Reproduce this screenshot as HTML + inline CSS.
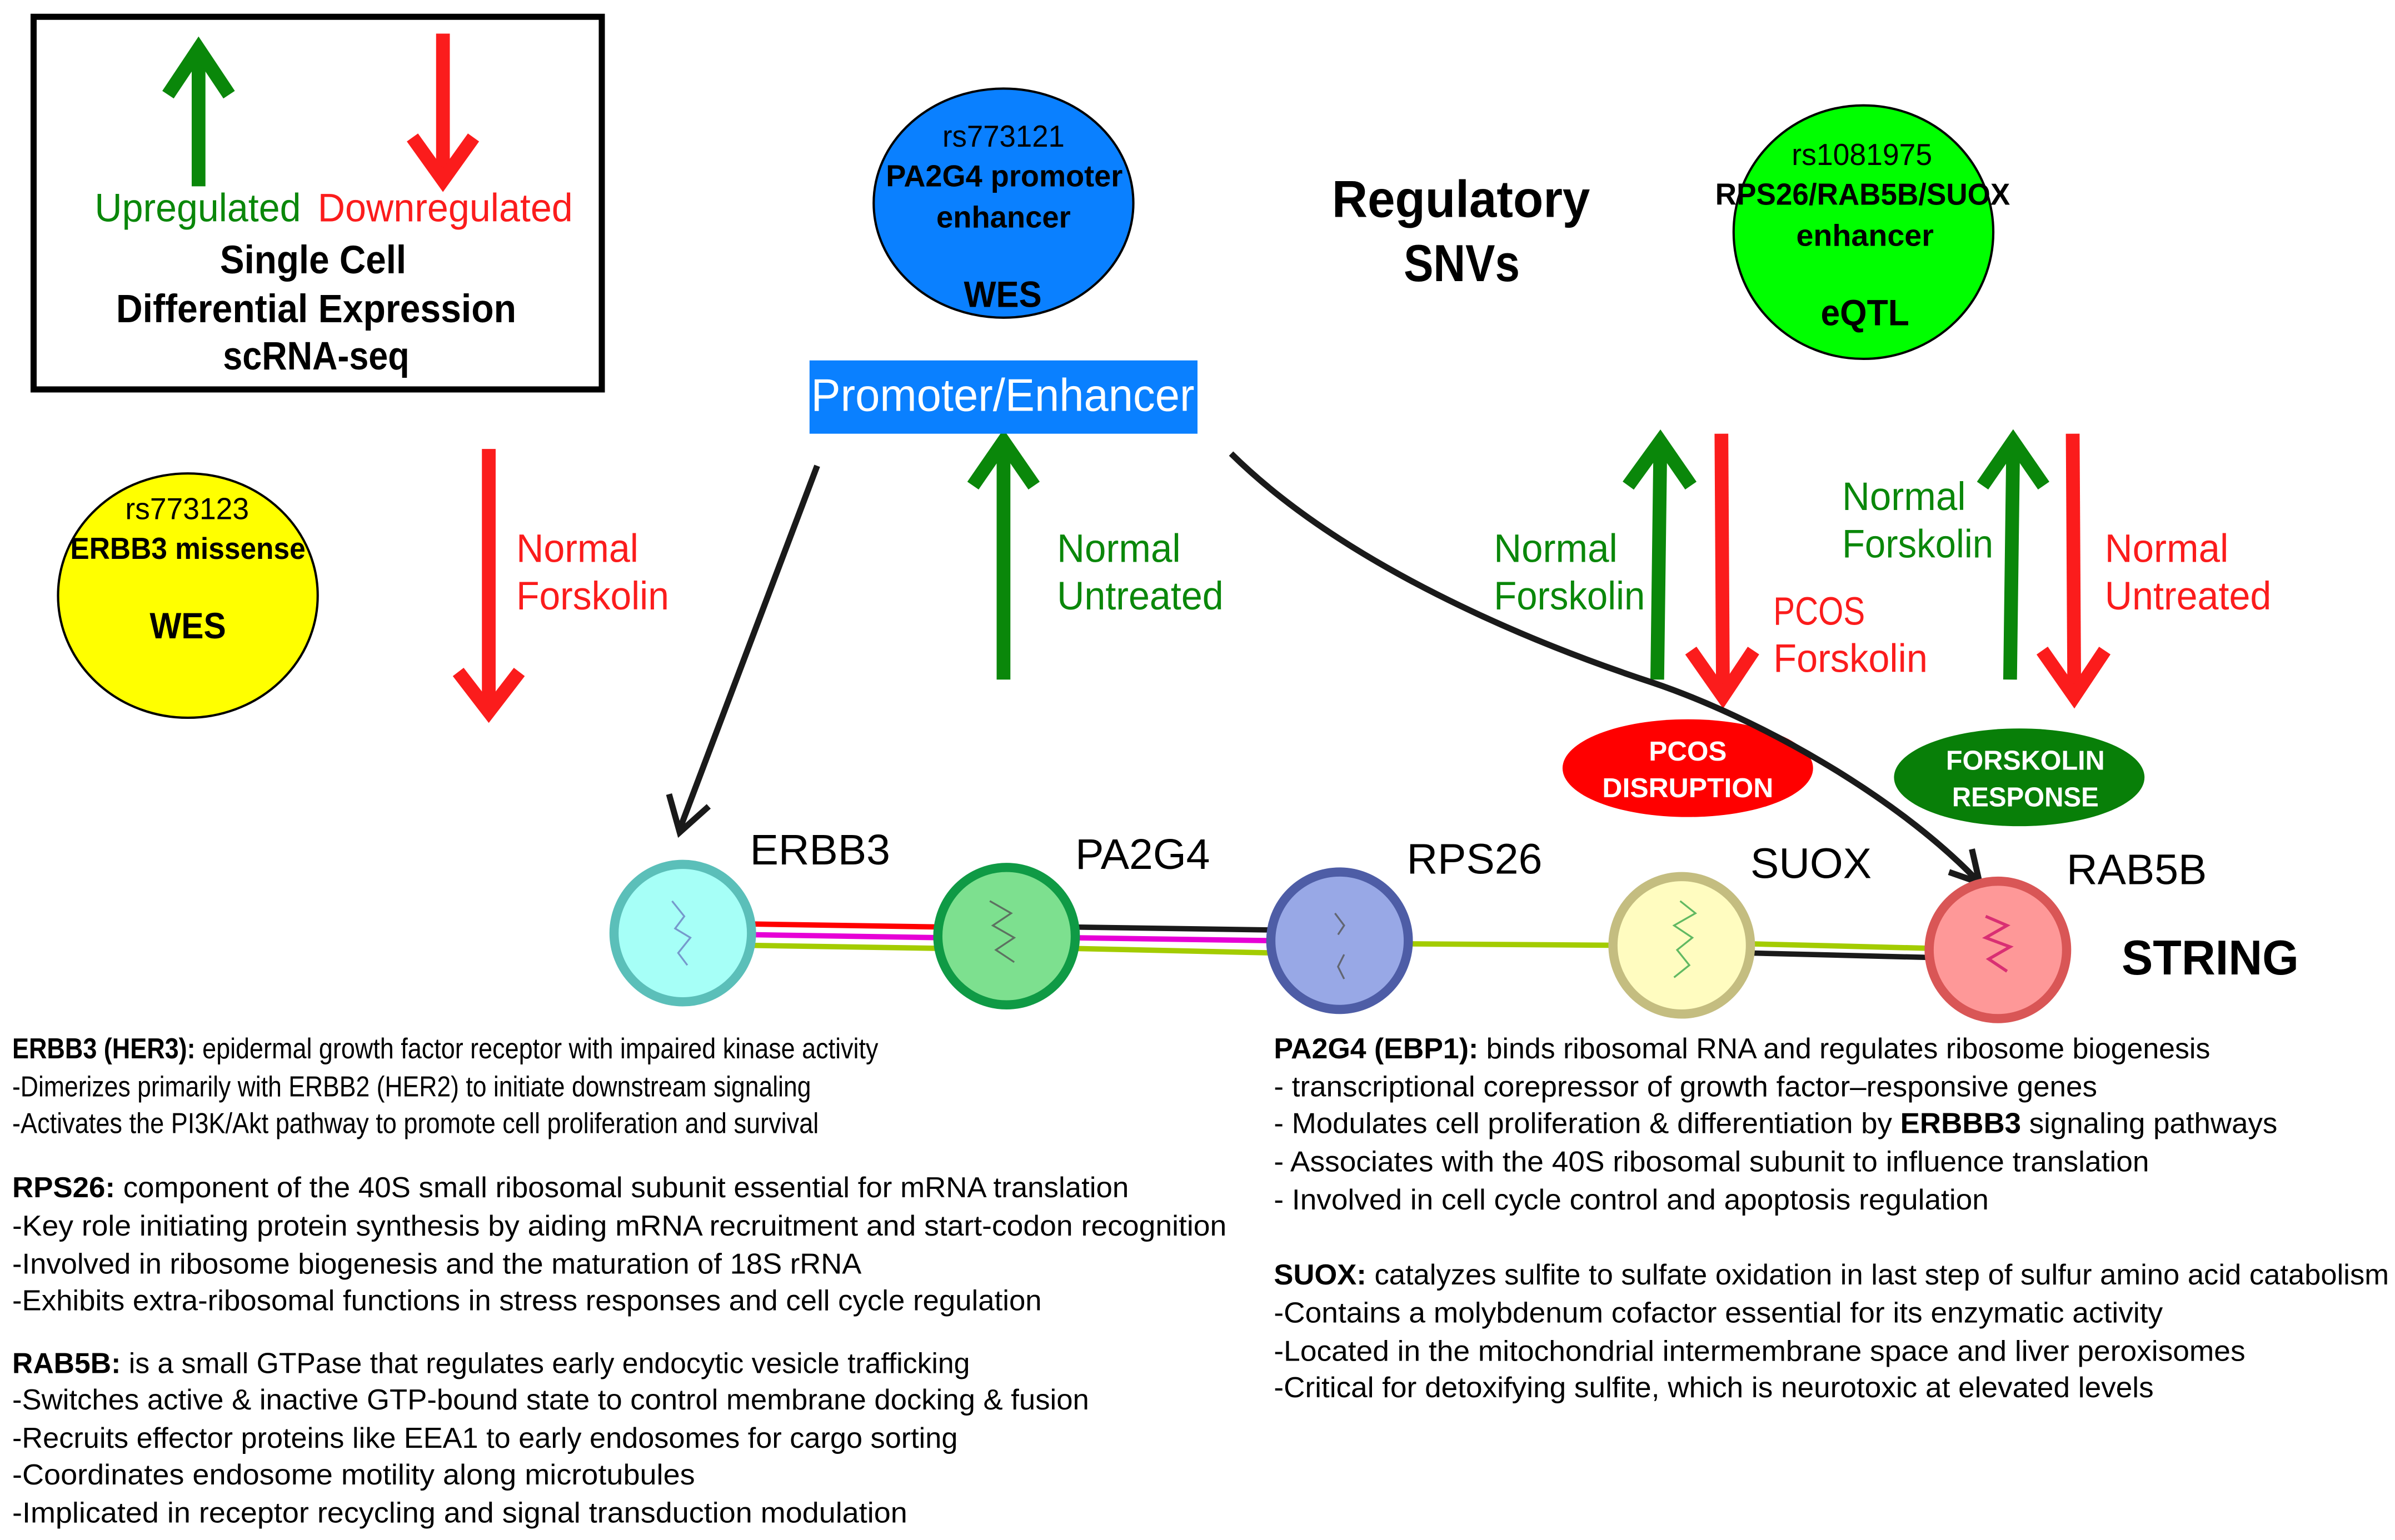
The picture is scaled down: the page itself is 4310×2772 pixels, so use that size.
<!DOCTYPE html>
<html><head><meta charset="utf-8"><style>html,body{margin:0;padding:0;background:#fff}svg{display:block}text{font-family:"Liberation Sans",sans-serif}</style></head><body>
<svg width="4310" height="2772" viewBox="0 0 1568 1008.4" preserveAspectRatio="none" xmlns="http://www.w3.org/2000/svg">
<rect x="22" y="11" width="372" height="244" fill="none" stroke="#000" stroke-width="4"/>
<g stroke-linecap="butt" fill="none" stroke-width="9">
<line x1="130" y1="122" x2="130" y2="36" stroke="#0a870a"/><polyline points="110,62 130,32 150,62" stroke="#0a870a"/>
<line x1="290" y1="22" x2="290" y2="114" stroke="#fb1c1c"/><polyline points="270,90 290,118 310,90" stroke="#fb1c1c"/>
<line x1="320" y1="294" x2="320" y2="462" stroke="#fb1c1c"/><polyline points="300,440 320,466 340,440" stroke="#fb1c1c"/>
<line x1="657" y1="445" x2="657" y2="292" stroke="#0a870a"/><polyline points="637,318 657,289 677,318" stroke="#0a870a"/>
<line x1="1085" y1="445" x2="1087" y2="292" stroke="#0a870a"/><polyline points="1066,318 1087,289 1107,318" stroke="#0a870a"/>
<line x1="1127" y1="284" x2="1128" y2="452" stroke="#fb1c1c"/><polyline points="1107,426 1128,456 1148,426" stroke="#fb1c1c"/>
<line x1="1316" y1="445" x2="1318" y2="292" stroke="#0a870a"/><polyline points="1298,318 1318,289 1338,318" stroke="#0a870a"/>
<line x1="1357" y1="284" x2="1358" y2="452" stroke="#fb1c1c"/><polyline points="1337,426 1358,456 1378,426" stroke="#fb1c1c"/>
</g>
<g font-size="26">
<text x="62" y="145" fill="#0a870a" textLength="135" lengthAdjust="spacingAndGlyphs">Upregulated</text>
<text x="208" y="145" fill="#fb1c1c" textLength="167" lengthAdjust="spacingAndGlyphs">Downregulated</text>
<g font-weight="bold">
<text x="144" y="179" textLength="122" lengthAdjust="spacingAndGlyphs">Single Cell</text>
<text x="76" y="211" textLength="262" lengthAdjust="spacingAndGlyphs">Differential Expression</text>
<text x="146" y="242" textLength="122" lengthAdjust="spacingAndGlyphs">scRNA-seq</text>
</g>
<text x="338" y="368" fill="#fb1c1c" textLength="80" lengthAdjust="spacingAndGlyphs">Normal</text>
<text x="338" y="399" fill="#fb1c1c" textLength="100" lengthAdjust="spacingAndGlyphs">Forskolin</text>
<text x="692" y="368" fill="#0a870a" textLength="81" lengthAdjust="spacingAndGlyphs">Normal</text>
<text x="692" y="399" fill="#0a870a" textLength="109" lengthAdjust="spacingAndGlyphs">Untreated</text>
<text x="978" y="368" fill="#0a870a" textLength="81" lengthAdjust="spacingAndGlyphs">Normal</text>
<text x="978" y="399" fill="#0a870a" textLength="99" lengthAdjust="spacingAndGlyphs">Forskolin</text>
<text x="1161" y="409" fill="#fb1c1c" textLength="60" lengthAdjust="spacingAndGlyphs">PCOS</text>
<text x="1161" y="440" fill="#fb1c1c" textLength="101" lengthAdjust="spacingAndGlyphs">Forskolin</text>
<text x="1206" y="334" fill="#0a870a" textLength="81" lengthAdjust="spacingAndGlyphs">Normal</text>
<text x="1206" y="365" fill="#0a870a" textLength="99" lengthAdjust="spacingAndGlyphs">Forskolin</text>
<text x="1378" y="368" fill="#fb1c1c" textLength="81" lengthAdjust="spacingAndGlyphs">Normal</text>
<text x="1378" y="399" fill="#fb1c1c" textLength="109" lengthAdjust="spacingAndGlyphs">Untreated</text>
</g>
<ellipse cx="123" cy="390" rx="85" ry="80" fill="#ffff00" stroke="#000" stroke-width="1.5"/>
<text x="82" y="340" font-size="20" textLength="81" lengthAdjust="spacingAndGlyphs">rs773123</text>
<text x="46" y="366" font-size="20" font-weight="bold" textLength="154" lengthAdjust="spacingAndGlyphs">ERBB3 missense</text>
<text x="98" y="418" font-size="24" font-weight="bold" textLength="50" lengthAdjust="spacingAndGlyphs">WES</text>
<ellipse cx="657" cy="133" rx="85" ry="75" fill="#0a80ff" stroke="#000" stroke-width="1.5"/>
<text x="617" y="96" font-size="20" textLength="80" lengthAdjust="spacingAndGlyphs">rs773121</text>
<text x="580" y="122" font-size="20" font-weight="bold" textLength="155" lengthAdjust="spacingAndGlyphs">PA2G4 promoter</text>
<text x="613" y="149" font-size="20" font-weight="bold" textLength="88" lengthAdjust="spacingAndGlyphs">enhancer</text>
<text x="631" y="201" font-size="24" font-weight="bold" textLength="51" lengthAdjust="spacingAndGlyphs">WES</text>
<rect x="530" y="236" width="254" height="48" fill="#0a80ff"/>
<text x="531" y="269" font-size="30" fill="#fff" textLength="251" lengthAdjust="spacingAndGlyphs">Promoter/Enhancer</text>
<text x="872" y="142" font-size="34" font-weight="bold" textLength="169" lengthAdjust="spacingAndGlyphs">Regulatory</text>
<text x="919" y="184" font-size="34" font-weight="bold" textLength="76" lengthAdjust="spacingAndGlyphs">SNVs</text>
<ellipse cx="1220" cy="152" rx="85" ry="83" fill="#00ff00" stroke="#000" stroke-width="1.5"/>
<text x="1173" y="108" font-size="20" textLength="92" lengthAdjust="spacingAndGlyphs">rs1081975</text>
<text x="1123" y="134" font-size="20" font-weight="bold" textLength="193" lengthAdjust="spacingAndGlyphs">RPS26/RAB5B/SUOX</text>
<text x="1176" y="161" font-size="20" font-weight="bold" textLength="90" lengthAdjust="spacingAndGlyphs">enhancer</text>
<text x="1192" y="213" font-size="24" font-weight="bold" textLength="58" lengthAdjust="spacingAndGlyphs">eQTL</text>
<ellipse cx="1105" cy="503" rx="82" ry="32" fill="#ff0000"/>
<text x="1105" y="498" font-size="18" font-weight="bold" fill="#fff" text-anchor="middle">PCOS</text>
<text x="1105" y="522" font-size="18" font-weight="bold" fill="#fff" text-anchor="middle" textLength="112" lengthAdjust="spacingAndGlyphs">DISRUPTION</text>
<ellipse cx="1322" cy="509" rx="82" ry="32" fill="#087f08"/>
<text x="1326" y="504" font-size="18" font-weight="bold" fill="#fff" text-anchor="middle" textLength="104" lengthAdjust="spacingAndGlyphs">FORSKOLIN</text>
<text x="1326" y="528" font-size="18" font-weight="bold" fill="#fff" text-anchor="middle" textLength="96" lengthAdjust="spacingAndGlyphs">RESPONSE</text>
<g fill="none" stroke="#1a1a1a" stroke-width="4">
<line x1="535" y1="305" x2="445" y2="543"/><polyline points="438,520 445,545 464,528"/>
<path d="M806,297 C880,370 1000,420 1082,447 C1150,470 1240,520 1294,576"/><polyline points="1291,556 1296,578 1276,571"/>
</g>
<g stroke-width="3.5">
<line x1="490" y1="605" x2="615" y2="607" stroke="#ff0000"/>
<line x1="490" y1="612" x2="615" y2="614" stroke="#e600d6"/>
<line x1="490" y1="619" x2="615" y2="621" stroke="#a3cc00"/>
<line x1="700" y1="607" x2="835" y2="609" stroke="#1a1a1a"/>
<line x1="700" y1="614" x2="835" y2="616" stroke="#e600d6"/>
<line x1="700" y1="621" x2="835" y2="624" stroke="#a3cc00"/>
<line x1="920" y1="618" x2="1060" y2="619" stroke="#a3cc00"/>
<line x1="1145" y1="618" x2="1265" y2="621" stroke="#a3cc00"/>
<line x1="1145" y1="624" x2="1265" y2="627" stroke="#1a1a1a"/>
</g>
<g stroke-width="6">
<circle cx="447" cy="611" r="45" fill="#a6fff7" stroke="#5bbfb9"/>
<circle cx="659" cy="613" r="45" fill="#7de08f" stroke="#0f9a45"/>
<circle cx="877" cy="616" r="45" fill="#98a8e6" stroke="#4e5da6"/>
<circle cx="1101" cy="619" r="45" fill="#fffcc0" stroke="#c4bd80"/>
<circle cx="1308" cy="622" r="45" fill="#fe9898" stroke="#d95656"/>
</g>
<g fill="none" stroke-width="1.2" opacity="0.8">
<path d="M440,590 l8,10 -6,8 10,6 -8,10 6,8" stroke="#6a80c0"/>
<path d="M648,590 l14,8 -12,8 14,8 -12,8 12,8" stroke="#555"/>
<path d="M874,598 l6,8 -4,6 M880,625 l-4,8 4,8" stroke="#555"/>
<path d="M1100,590 l10,8 -14,8 12,8 -10,8 8,10 -10,8" stroke="#3aa84a"/>
<path d="M1300,600 l14,6 -14,8 16,6 -14,8 12,8" stroke="#d0156a" stroke-width="2"/>
</g>
<g font-size="28">
<text x="491" y="566">ERBB3</text>
<text x="704" y="569">PA2G4</text>
<text x="921" y="572">RPS26</text>
<text x="1146" y="575">SUOX</text>
<text x="1353" y="579">RAB5B</text>
</g>
<text x="1389" y="638" font-size="32" font-weight="bold" textLength="116" lengthAdjust="spacingAndGlyphs">STRING</text>
<g font-size="19">
<text x="8" y="693" textLength="567" lengthAdjust="spacingAndGlyphs"><tspan font-weight="bold">ERBB3 (HER3):</tspan> epidermal growth factor receptor with impaired kinase activity</text>
<text x="8" y="718" textLength="523" lengthAdjust="spacingAndGlyphs">-Dimerizes primarily with ERBB2 (HER2) to initiate downstream signaling</text>
<text x="8" y="742" textLength="528" lengthAdjust="spacingAndGlyphs">-Activates the PI3K/Akt pathway to promote cell proliferation and survival</text>
<text x="8" y="784" textLength="731" lengthAdjust="spacingAndGlyphs"><tspan font-weight="bold">RPS26:</tspan> component of the 40S small ribosomal subunit essential for mRNA translation</text>
<text x="8" y="809" textLength="795" lengthAdjust="spacingAndGlyphs">-Key role initiating protein synthesis by aiding mRNA recruitment and start-codon recognition</text>
<text x="8" y="834" textLength="556" lengthAdjust="spacingAndGlyphs">-Involved in ribosome biogenesis and the maturation of 18S rRNA</text>
<text x="8" y="858" textLength="674" lengthAdjust="spacingAndGlyphs">-Exhibits extra-ribosomal functions in stress responses and cell cycle regulation</text>
<text x="8" y="899" textLength="627" lengthAdjust="spacingAndGlyphs"><tspan font-weight="bold">RAB5B:</tspan> is a small GTPase that regulates early endocytic vesicle trafficking</text>
<text x="8" y="923" textLength="705" lengthAdjust="spacingAndGlyphs">-Switches active &amp; inactive GTP-bound state to control membrane docking &amp; fusion</text>
<text x="8" y="948" textLength="619" lengthAdjust="spacingAndGlyphs">-Recruits effector proteins like EEA1 to early endosomes for cargo sorting</text>
<text x="8" y="972" textLength="447" lengthAdjust="spacingAndGlyphs">-Coordinates endosome motility along microtubules</text>
<text x="8" y="997" textLength="586" lengthAdjust="spacingAndGlyphs">-Implicated in receptor recycling and signal transduction modulation</text>
<text x="834" y="693" textLength="613" lengthAdjust="spacingAndGlyphs"><tspan font-weight="bold">PA2G4 (EBP1):</tspan> binds ribosomal RNA and regulates ribosome biogenesis</text>
<text x="834" y="718" textLength="539" lengthAdjust="spacingAndGlyphs">- transcriptional corepressor of growth factor–responsive genes</text>
<text x="834" y="742" textLength="657" lengthAdjust="spacingAndGlyphs">- Modulates cell proliferation &amp; differentiation by <tspan font-weight="bold">ERBBB3</tspan> signaling pathways</text>
<text x="834" y="767" textLength="573" lengthAdjust="spacingAndGlyphs">- Associates with the 40S ribosomal subunit to influence translation</text>
<text x="834" y="792" textLength="468" lengthAdjust="spacingAndGlyphs">- Involved in cell cycle control and apoptosis regulation</text>
<text x="834" y="841" textLength="730" lengthAdjust="spacingAndGlyphs"><tspan font-weight="bold">SUOX:</tspan> catalyzes sulfite to sulfate oxidation in last step of sulfur amino acid catabolism</text>
<text x="834" y="866" textLength="582" lengthAdjust="spacingAndGlyphs">-Contains a molybdenum cofactor essential for its enzymatic activity</text>
<text x="834" y="891" textLength="636" lengthAdjust="spacingAndGlyphs">-Located in the mitochondrial intermembrane space and liver peroxisomes</text>
<text x="834" y="915" textLength="576" lengthAdjust="spacingAndGlyphs">-Critical for detoxifying sulfite, which is neurotoxic at elevated levels</text>
</g>
</svg>
</body></html>
